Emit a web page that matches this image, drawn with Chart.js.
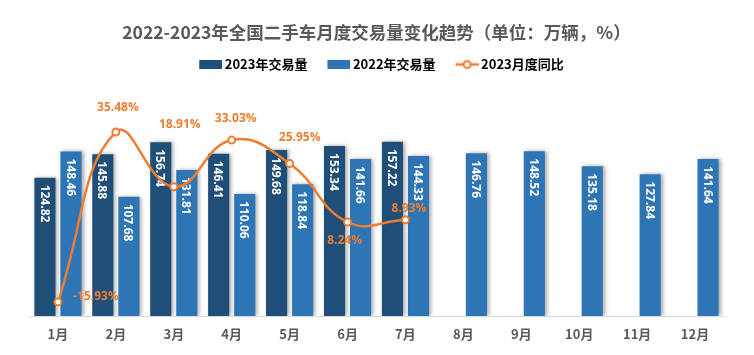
<!DOCTYPE html>
<html><head><meta charset="utf-8">
<script src="https://cdn.jsdelivr.net/npm/chart.js@4/dist/chart.umd.min.js"></script>
<style>html,body{margin:0;padding:0;background:#fff;}canvas{display:block;}</style>
</head><body>
<canvas id="c" width="754" height="355"></canvas>
<script>
const months = ['1月','2月','3月','4月','5月','6月','7月','8月','9月','10月','11月','12月'];
const sales2023 = [124.82,145.88,156.74,146.41,149.68,153.34,157.22,null,null,null,null,null];
const sales2022 = [148.46,107.68,131.81,110.06,118.84,141.66,144.33,146.76,148.52,135.18,127.84,141.64];
const yoy2023 = [-15.93,35.48,18.91,33.03,25.95,8.24,8.93,null,null,null,null,null];
const seriesNames = ['2023年交易量','2022年交易量','2023月度同比'];
const titleText = '2022-2023年全国二手车月度交易量变化趋势（单位：万辆，%）';

const C2023 = '#1F4E79', C2022 = '#2E75B6', CLINE = '#ED7D31';
const FONT = '"Noto Sans CJK SC", "Noto Sans", sans-serif';

function boxImg(color){
  const c = document.createElement('canvas'); c.width = 37; c.height = 9;
  const x = c.getContext('2d'); x.fillStyle = color; x.fillRect(14, 0, 23, 9); return c;
}
function lineImg(){
  const c = document.createElement('canvas'); c.width = 37; c.height = 12;
  const x = c.getContext('2d');
  x.strokeStyle = CLINE; x.lineWidth = 2.5;
  x.beginPath(); x.moveTo(14, 6); x.lineTo(37, 6); x.stroke();
  x.beginPath(); x.arc(25.5, 6, 3.5, 0, Math.PI*2); x.fillStyle = '#fff'; x.fill(); x.lineWidth = 2; x.stroke();
  return c;
}
const legendImgs = [boxImg(C2023), boxImg(C2022), lineImg()];

// label offsets for the percentage labels (dx, dy from point)
const lineLabelOffsets = [[38,-5],[2,-24],[6,-62],[4,-21],[10,-26],[-3,19],[3.5,-11]];

const effects = {
  id: 'effects',
  beforeDatasetDraw(chart, args) {
    if (args.meta.type !== 'bar') return;
    const ctx = chart.ctx;
    ctx.save();
    ctx.shadowColor = 'rgba(0,0,0,0.35)';
    ctx.shadowBlur = 4;
    ctx.shadowOffsetX = 2;
    ctx.shadowOffsetY = 0;
  },
  afterDatasetDraw(chart, args) {
    if (args.meta.type !== 'bar') return;
    const ctx = chart.ctx;
    ctx.restore();
    const ds = chart.data.datasets[args.index];
    ctx.save();
    ctx.font = 'bold 12px "Open Sans", sans-serif';
    ctx.fillStyle = '#ffffff';
    ctx.textAlign = 'left';
    ctx.textBaseline = 'middle';
    args.meta.data.forEach((bar, i) => {
      const v = ds.data[i];
      if (v == null) return;
      ctx.save();
      ctx.translate(bar.x - 1, bar.y + 7);
      ctx.rotate(Math.PI / 2);
      ctx.fillText(v.toFixed(2), 0, 0);
      ctx.restore();
    });
    ctx.restore();
  },
  afterDatasetsDraw(chart) {
    const ctx = chart.ctx;
    const meta = chart.getDatasetMeta(2);
    ctx.save();
    ctx.font = 'bold 12px "Open Sans", sans-serif';
    ctx.fillStyle = CLINE;
    ctx.textAlign = 'center';
    ctx.textBaseline = 'middle';
    meta.data.forEach((pt, i) => {
      const v = yoy2023[i];
      if (v == null) return;
      const o = lineLabelOffsets[i] || [0, -15];
      ctx.fillText(v.toFixed(2) + '%', pt.x + o[0], pt.y + o[1]);
    });
    ctx.restore();
  }
};

new Chart(document.getElementById('c'), {
  data: {
    labels: months,
    datasets: [
      { type: 'bar', label: seriesNames[0], data: sales2023, backgroundColor: C2023, yAxisID: 'y', order: 1,
        categoryPercentage: 0.9, barPercentage: 0.81 },
      { type: 'bar', label: seriesNames[1], data: sales2022, backgroundColor: C2022, yAxisID: 'y', order: 1,
        categoryPercentage: 0.9, barPercentage: 0.81 },
      { type: 'line', label: seriesNames[2], data: yoy2023, yAxisID: 'y1', order: 0,
        borderColor: CLINE, borderWidth: 2.5, tension: 0.45, pointRadius: 3.5, pointBorderWidth: 2,
        pointBackgroundColor: '#ffffff', pointBorderColor: CLINE, clip: false, spanGaps: false }
    ]
  },
  options: {
    responsive: false,
    devicePixelRatio: 1,
    animation: false,
    layout: { padding: { left: 29, right: 30, top: 0, bottom: 3.4 } },
    plugins: {
      tooltip: { enabled: false },
      title: {
        display: true, text: titleText, color: '#595959',
        font: { family: FONT, size: 17.5, weight: 'bold' },
        padding: { top: 21.5, bottom: 5.5 }
      },
      legend: {
        display: true, position: 'top',
        labels: {
          usePointStyle: true, pointStyleWidth: 29, boxHeight: 14, padding: 10,
          color: '#404040', font: { family: FONT, size: 13, weight: 'bold' },
          generateLabels: (chart) => chart.data.datasets.map((d, i) => ({
            text: d.label, pointStyle: legendImgs[i], fillStyle: 'transparent',
            strokeStyle: 'transparent', lineWidth: 0, hidden: false, datasetIndex: i
          }))
        }
      }
    },
    scales: {
      x: {
        grid: { display: false, drawTicks: false },
        border: { display: true, color: '#D9D9D9', width: 1 },
        ticks: { color: '#595959', font: { family: FONT, size: 13, weight: 'bold' }, padding: 10 }
      },
      y: { display: false, min: 0, max: 212 },
      y1: { display: false, min: -20.2, max: 50.9, position: 'right' }
    }
  },
  plugins: [effects]
});
</script>
</body></html>
